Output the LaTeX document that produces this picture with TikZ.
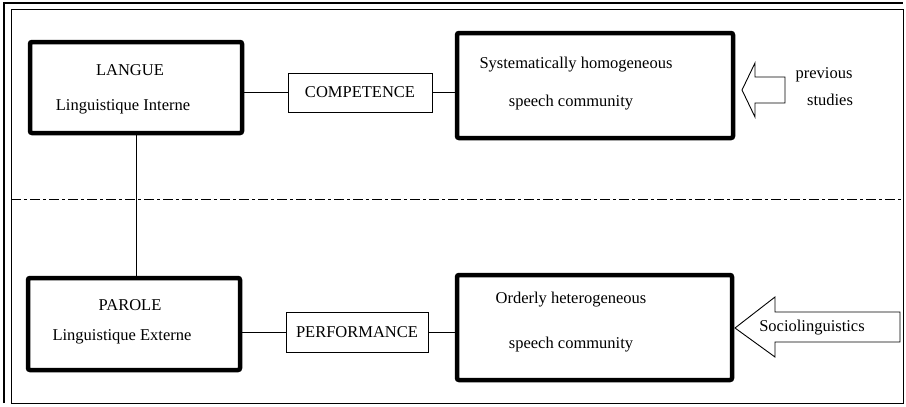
\documentclass[tikz,border=0pt]{standalone}
\usepackage{fontspec}
\setmainfont{Liberation Serif}
\usetikzlibrary{positioning}

\begin{document}
\begin{tikzpicture}[x=1pt, y=-1pt,
    every node/.style={font=\fontsize{16.5}{19}\selectfont, inner sep=0pt},
    thickbox/.style={draw, line width=4.5pt, rounded corners=2pt},
    thinbox/.style={draw, line width=0.8pt},
    link/.style={line width=0.8pt}]
    \useasboundingbox (0,0) rectangle (906,407);

    % Frame
    \draw[line width=1pt] (11,9) rectangle (903,403);
    \draw[line width=1.2pt] (4,403) -- (4,3) -- (903,3);

    % Boxes
    \node[thickbox, minimum width=212pt, minimum height=91pt] (langue) at (136,87.5) {};
    \node[thinbox, minimum width=144pt, minimum height=39pt] (competence) at (360,92.5) {COMPETENCE};
    \node[thickbox, minimum width=276pt, minimum height=105pt] (homog) at (595,85.5) {};
    \node[thickbox, minimum width=212pt, minimum height=92pt] (parole) at (134,324) {};
    \node[thinbox, minimum width=142pt, minimum height=40pt] (performance) at (357,332) {PERFORMANCE};
    \node[thickbox, minimum width=275pt, minimum height=105pt] (heterog) at (594.5,327.5) {};

    % Texts in the boxes
    \node (langueT) at (130,70) {LANGUE};
    \node (langueS) at (123,107) {Linguistique Interne};
    \node (homogT) at (576,65) {Systematically homogeneous};
    \node (homogS) at (571,103) {speech community};
    \node (paroleT) at (130,305) {PAROLE};
    \node (paroleS) at (122,337) {Linguistique Externe};
    \node (heterogT) at (571,300) {Orderly heterogeneous};
    \node (heterogS) at (571,345) {speech community};

    % Links
    \draw[link] (langue.east |- competence.west) -- (competence.west);
    \draw[link] (competence.east) -- (competence.east -| homog.west);
    \draw[link] (parole.east |- performance.west) -- (performance.west);
    \draw[link] (performance.east) -- (performance.east -| heterog.west);
    \draw[link] (langue.south) -- (langue.south |- parole.north);

    % Dividing line
    \draw[line width=0.9pt, dash pattern=on 10pt off 3pt on 3pt off 3pt] (11,199) -- (903,199);

    % Hollow arrows
    \draw[line width=0.9pt] (742,90) -- (755,63) -- (755,77) -- (785,77)
        -- (785,103) -- (755,103) -- (755,117) -- cycle;
    \node (prevT) at (824,75) {previous};
    \node (prevS) at (830,100) {studies};
    \draw[line width=0.9pt] (735,328) -- (775,297) -- (775,312) -- (900,312)
        -- (900,342) -- (775,342) -- (775,357) -- cycle;
    \node (socio) at (812,328) {Sociolinguistics};
\end{tikzpicture}
\end{document}
